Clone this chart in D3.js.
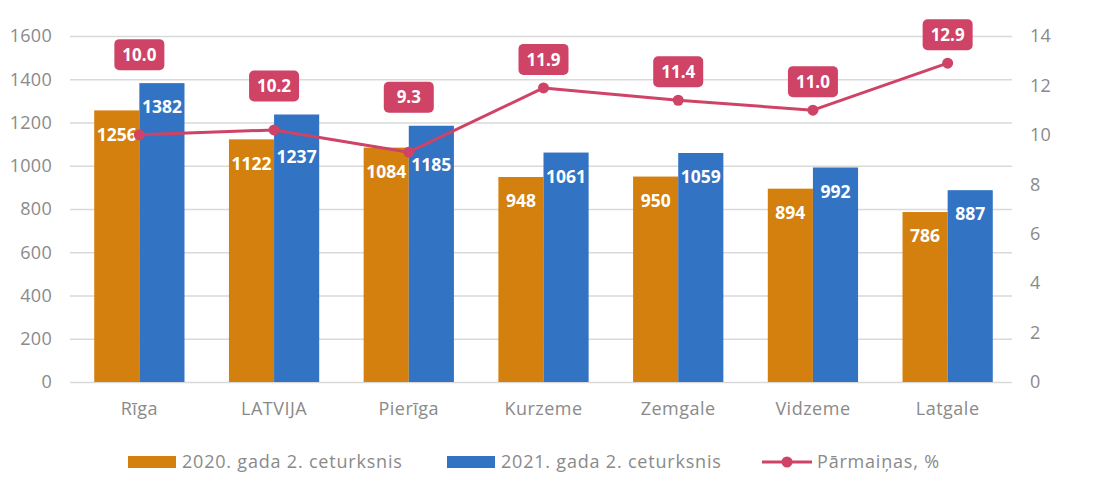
<!DOCTYPE html>
<html>
<head>
<meta charset="utf-8">
<script src="https://cdn.jsdelivr.net/npm/d3@7/dist/d3.min.js"></script>
<style>
  html, body { margin: 0; padding: 0; background: #ffffff; }
  svg { display: block; font-family: "Open Sans", "DejaVu Sans", sans-serif; }
</style>
</head>
<body>
<svg id="chart" width="1095" height="504"></svg>
<script>
// ---- data ----
const categories = ["Rīga", "LATVIJA", "Pierīga", "Kurzeme", "Zemgale", "Vidzeme", "Latgale"];
const series2020 = [1256, 1122, 1084, 948, 950, 894, 786];
const series2021 = [1382, 1237, 1185, 1061, 1059, 992, 887];
const changePct = [10.0, 10.2, 9.3, 11.9, 11.4, 11.0, 12.9];
const seriesNames = ["2020. gada 2. ceturksnis", "2021. gada 2. ceturksnis", "Pārmaiņas, %"];
const leftTicks = [0, 200, 400, 600, 800, 1000, 1200, 1400, 1600];
const rightTicks = [0, 2, 4, 6, 8, 10, 12, 14];

// ---- styles ----
const cOrange = "#D4800F", cBlue = "#3273C4", cPink = "#CE4366";
const cText = "#8a8a8a", cGrid = "#d9d9d9";

const svg = d3.select("#chart");
const plotL = 72, plotR = 1015, plotT = 36, plotB = 382;

const x = d3.scaleBand().domain(categories).range([plotL, plotR]).paddingInner(0.33).paddingOuter(0.165);
const x1 = d3.scaleBand().domain(["a", "b"]).range([0, x.bandwidth()]);
const y = d3.scaleLinear().domain([0, 1600]).range([plotB, plotT]);
const y2 = d3.scaleLinear().domain([0, 14]).range([plotB, plotT]);

// gridlines via axis
const grid = svg.append("g").attr("transform", `translate(${plotL - 2},0)`)
  .call(d3.axisRight(y).tickValues(leftTicks).tickSize(1012 - plotL + 2).tickFormat(""));
grid.select(".domain").remove();
grid.selectAll(".tick line").attr("stroke", cGrid).attr("stroke-width", 1.3);

// left axis labels
const la = svg.append("g").attr("transform", `translate(52,0)`)
  .call(d3.axisLeft(y).tickValues(leftTicks).tickSize(0).tickPadding(0).tickFormat(d3.format("d")));
la.select(".domain").remove();
la.selectAll("text").attr("fill", cText).style("font-size", "18px").style("font-family", "Open Sans")
  .style("letter-spacing", "0.3px");

// right axis labels
const ra = svg.append("g").attr("transform", `translate(1030,0)`)
  .call(d3.axisRight(y2).tickValues(rightTicks).tickSize(0).tickPadding(0).tickFormat(d3.format("d")));
ra.select(".domain").remove();
ra.selectAll("text").attr("fill", cText).style("font-size", "18px").style("font-family", "Open Sans")
  .style("letter-spacing", "0.3px");

// x axis labels
const xa = svg.append("g").attr("transform", `translate(0,${plotB})`)
  .call(d3.axisBottom(x).tickSize(0).tickPadding(20));
xa.select(".domain").remove();
xa.selectAll("text").attr("fill", cText).style("font-size", "18px").style("font-family", "Open Sans")
  .style("letter-spacing", "0.5px");

// bars
const barData = [];
categories.forEach((c, i) => {
  barData.push({ c, k: "a", v: series2020[i], color: cOrange });
  barData.push({ c, k: "b", v: series2021[i], color: cBlue });
});
svg.append("g").selectAll("rect").data(barData).join("rect")
  .attr("x", d => x(d.c) + x1(d.k))
  .attr("width", x1.bandwidth())
  .attr("y", d => y(d.v))
  .attr("height", d => plotB - y(d.v))
  .attr("fill", d => d.color);

// line points
const pts = categories.map((c, i) => ({ c, v: changePct[i], px: x(c) + x.bandwidth() / 2, py: y2(changePct[i]) }));
const lineAt = (px) => {
  for (let i = 0; i < pts.length - 1; i++) {
    if (px >= pts[i].px && px <= pts[i + 1].px) {
      const t = (px - pts[i].px) / (pts[i + 1].px - pts[i].px);
      return pts[i].py + t * (pts[i + 1].py - pts[i].py);
    }
  }
  return null;
};

// bar labels (inside end, nudged below the line if they collide)
svg.append("g").selectAll("text").data(barData).join("text")
  .attr("x", d => x(d.c) + x1(d.k) + x1.bandwidth() / 2)
  .attr("y", d => {
    const cx = x(d.c) + x1(d.k) + x1.bandwidth() / 2;
    let cy = y(d.v) + 24;
    const ly = lineAt(cx);
    if (ly !== null && Math.abs(ly - cy) < 14) cy = ly + 23;
    return cy;
  })
  .attr("dy", "0.36em")
  .attr("text-anchor", "middle")
  .attr("fill", "#ffffff")
  .style("font-weight", "700")
  .style("font-size", "17.5px")
  .text(d => d.v);

svg.append("path").datum(pts)
  .attr("fill", "none").attr("stroke", cPink).attr("stroke-width", 3)
  .attr("stroke-linejoin", "round")
  .attr("d", d3.line().x(d => d.px).y(d => d.py));
svg.append("g").selectAll("circle").data(pts).join("circle")
  .attr("cx", d => d.px).attr("cy", d => d.py).attr("r", 5.5).attr("fill", cPink);

// percentage labels (boxes above point / bars)
const boxW = 50, boxH = 31;
const lg = svg.append("g").selectAll("g").data(pts).join("g")
  .attr("transform", (d, i) => {
    const top = Math.min(d.py, y(series2020[i]), y(series2021[i]));
    const bottom = top - 13;
    return `translate(${d.px},${bottom - boxH / 2})`;
  });
lg.append("rect").attr("x", -boxW / 2).attr("y", -boxH / 2).attr("width", boxW).attr("height", boxH)
  .attr("rx", 5).attr("fill", cPink);
lg.append("text").attr("text-anchor", "middle").attr("dy", "0.36em")
  .attr("fill", "#fff").style("font-weight", "700").style("font-size", "17px")
  .text(d => d3.format(".1f")(d.v));

// legend
const leg = svg.append("g").attr("transform", "translate(0,462)");
const legItems = [
  { name: seriesNames[0], type: "bar", color: cOrange, x: 128 },
  { name: seriesNames[1], type: "bar", color: cBlue, x: 447 },
  { name: seriesNames[2], type: "line", color: cPink, x: 762 }
];
legItems.forEach(it => {
  const g = leg.append("g").attr("transform", `translate(${it.x},0)`);
  if (it.type === "bar") {
    g.append("rect").attr("x", 0).attr("y", -6).attr("width", 48).attr("height", 12).attr("fill", it.color);
  } else {
    g.append("line").attr("x1", 0).attr("x2", 50).attr("y1", 0).attr("y2", 0).attr("stroke", it.color).attr("stroke-width", 3);
    g.append("circle").attr("cx", 25).attr("cy", 0).attr("r", 5.5).attr("fill", it.color);
  }
  g.append("text").attr("x", it.type === "bar" ? 54 : 55).attr("dy", "0.36em")
    .attr("fill", cText).style("font-size", "18px").style("letter-spacing", "0.8px").text(it.name);
});
</script>
</body>
</html>
